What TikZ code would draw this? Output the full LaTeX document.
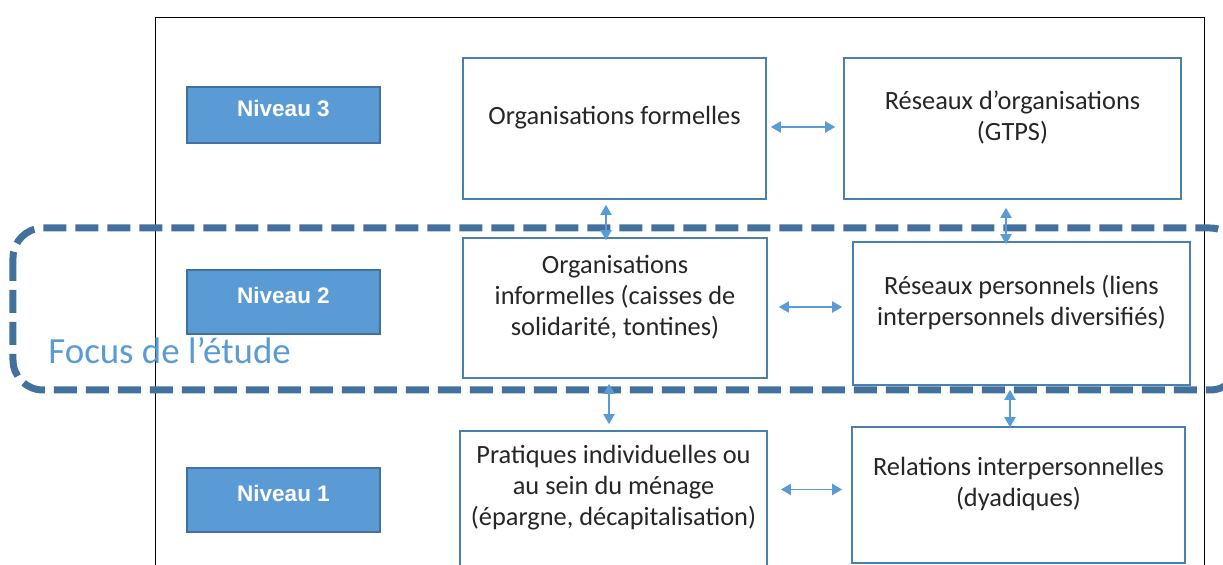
\documentclass[tikz,border=0pt]{standalone}
\usepackage{fontspec}
\setmainfont{Carlito}
\newfontfamily\niveaufont{Liberation Sans}
\usetikzlibrary{arrows.meta,calc,positioning}

\definecolor{lvlfill}{HTML}{5B9BD5}
\definecolor{lvlborder}{HTML}{41719C}
\definecolor{blkborder}{HTML}{4A80AE}
\definecolor{arrblue}{HTML}{5B9BD5}
\definecolor{focusblue}{HTML}{41719C}
\definecolor{txtgray}{HTML}{262626}

\begin{document}
\begin{tikzpicture}[
  level/.style={draw=lvlborder, line width=0.8pt, fill=lvlfill, minimum width=3.86cm},
  lvltext/.style={text=white, font=\niveaufont\bfseries\fontsize{12.8pt}{15pt}\selectfont, yshift=0.14cm},
  block/.style={draw=blkborder, line width=0.9pt, fill=white},
  blktext/.style={align=center, text=txtgray, font=\fontsize{15pt}{17.6pt}\selectfont, yshift=0.22cm},
  biarrow/.style={line width=1.1pt, draw=arrblue,
    arrows={Triangle[length=0.2cm, width=0.22cm]-Triangle[length=0.2cm, width=0.22cm]}},
  focusline/.style={draw=focusblue, line width=0.14cm, dash pattern=on 0.46cm off 0.18cm, rounded corners=0.6cm}
]
\useasboundingbox (0,0) rectangle (24.46,-11.3);

% Outer frame (open at the bottom)
\draw[black, line width=0.5pt] (3.10,-11.4) -- (3.10,-0.34) -- (24.08,-0.34) -- (24.08,-11.4);

% Level boxes
\node[level, minimum height=1.12cm, label={[lvltext]center:Niveau 3}] (niv3) at (5.67,-2.30) {};
\node[level, minimum height=1.28cm, label={[lvltext]center:Niveau 2}] (niv2) at (5.67,-6.04) {};
\node[level, minimum height=1.28cm, label={[lvltext]center:Niveau 1}] (niv1) at (5.67,-10.00) {};

% Level 3
\node[block, minimum width=6.06cm, minimum height=2.82cm,
  label={[blktext]center:Organisations formelles}] (formelles) at (12.29,-2.57) {};
\node[block, minimum width=6.74cm, minimum height=2.82cm,
  label={[blktext]center:{Réseaux d’organisations\\(GTPS)}}] (resorg) at (20.25,-2.57) {};

% Level 2
\node[block, minimum width=6.08cm, minimum height=2.80cm,
  label={[blktext]center:{Organisations\\informelles (caisses de\\solidarité, tontines)}}] (informelles) at (12.30,-6.16) {};
\node[block, minimum width=6.74cm, minimum height=2.86cm,
  label={[blktext]center:{Réseaux personnels (liens\\interpersonnels diversifiés)}}] (resperso) at (20.43,-6.27) {};

% Level 1
\node[block, minimum width=6.14cm, minimum height=2.70cm,
  label={[blktext]center:{Pratiques individuelles ou\\au sein du ménage\\(épargne, décapitalisation)}}] (pratiques) at (12.27,-9.97) {};
\node[block, minimum width=6.66cm, minimum height=2.72cm,
  label={[blktext]center:{Relations interpersonnelles\\(dyadiques)}}] (relations) at (20.37,-9.90) {};

% Focus of the study
\draw[focusline] (0.26,-4.56) rectangle (24.8,-7.80);
\node[anchor=base west, inner sep=0pt, text=lvlfill, font=\fontsize{21pt}{25pt}\selectfont]
  (focus) at (0.96,-7.28) {Focus de l’étude};

% Horizontal links
\draw[biarrow, shorten <=0.08cm, shorten >=0.16cm]
  ([yshift=0.03cm]formelles.east) -- ([yshift=0.03cm]formelles.east -| resorg.west);
\draw[biarrow, shorten <=0.22cm, shorten >=0.20cm]
  ([yshift=0.02cm]informelles.east) -- ([yshift=0.02cm]informelles.east -| resperso.west);
\draw[biarrow, shorten <=0.26cm, shorten >=0.18cm]
  ([yshift=0.18cm]pratiques.east) -- ([yshift=0.18cm]pratiques.east -| relations.west);

% Vertical links
\draw[biarrow, shorten <=0.10cm, shorten >=-0.06cm]
  ([xshift=-0.17cm]formelles.south) -- ([xshift=-0.17cm]formelles.south |- informelles.north);
\draw[biarrow, shorten <=0.16cm, shorten >=-0.06cm]
  ([xshift=-0.13cm]resorg.south) -- ([xshift=-0.13cm]resorg.south |- resperso.north);
\draw[biarrow, shorten <=0.10cm, shorten >=0.12cm]
  ([xshift=-0.12cm]informelles.south) -- ([xshift=-0.12cm]informelles.south |- pratiques.north);
\draw[biarrow, shorten <=0.08cm, shorten >=-0.02cm]
  ([xshift=-0.23cm]resperso.south) -- ([xshift=-0.23cm]resperso.south |- relations.north);
\end{tikzpicture}
\end{document}
